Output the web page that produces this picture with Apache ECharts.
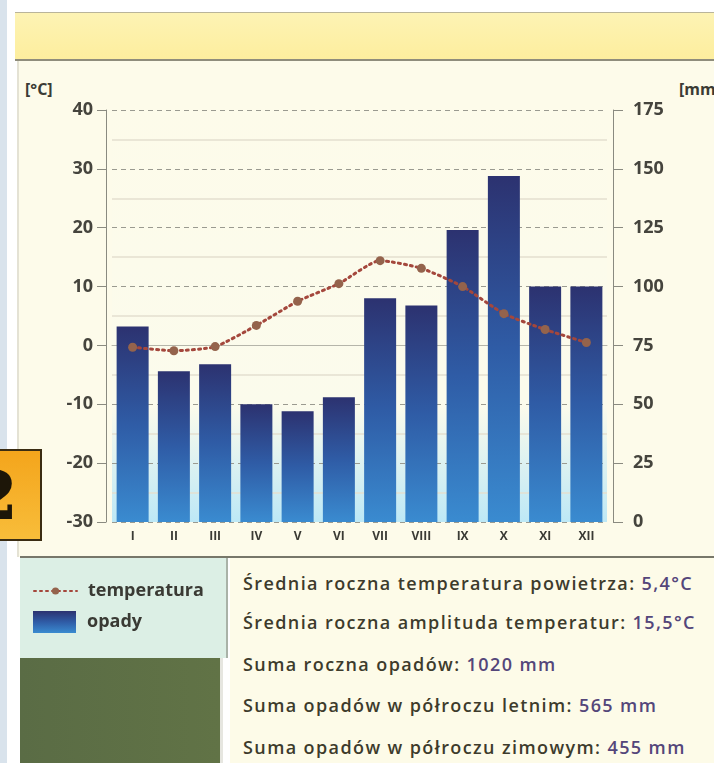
<!DOCTYPE html>
<html>
<head>
<meta charset="utf-8">
<script src="https://cdn.jsdelivr.net/npm/echarts@6/dist/echarts.min.js"></script>
<style>
  body { margin: 0; width: 714px; height: 763px; position: relative; overflow: hidden; background: #fff; font-family: 'Open Sans', sans-serif; }
  .edge { position: absolute; left: 0; top: 0; width: 7px; height: 763px; background: #d9e3ec; }
  .panel { position: absolute; left: 17px; top: 60px; width: 697px; height: 497px; background: #fdfbea; border-left: 2px solid #e4e2d4; }
  .topbar { position: absolute; left: 15px; top: 12px; width: 699px; height: 46px; background: linear-gradient(#fdf3b4, #fdee9e); border-top: 1px solid #b9b49a; border-bottom: 2px solid #8f8d7c; }
  .unit { position: absolute; top: 78px; font-weight: bold; font-size: 16px; color: #3b3b35; }
  .badge { position: absolute; left: -12px; top: 449px; width: 54px; height: 92px; background: linear-gradient(#f4a51c, #f8bd3a); border: 2px solid #3a2c12; box-sizing: border-box; overflow: hidden; }
  .badge span { position: absolute; right: 22px; top: 4px; font-size: 68px; font-weight: bold; color: #1d1608; line-height: 80px; font-family: 'DejaVu Serif', serif; }
  .hline { position: absolute; left: 20px; top: 556px; width: 694px; height: 2px; background: #77776a; }
  .legendbox { position: absolute; left: 20px; top: 558px; width: 206px; height: 100px; background: #dcefe5; border-right: 2px solid #a9b2a8; }
  .green { position: absolute; left: 20px; top: 658px; width: 200px; height: 105px; background: linear-gradient(90deg, #5a6c45, #617346); border-right: 3px solid #e6e6e0; }
  .info { position: absolute; left: 230px; top: 558px; width: 484px; height: 205px; background: #fdfbe8; }
  .info div { position: absolute; left: 13px; font-size: 18px; font-weight: 600; letter-spacing: 1.4px; color: #3d3b2c; white-space: nowrap; line-height: 20px; }
  .info b { color: #54467a; font-weight: 600; }
  #chart { position: absolute; left: 0; top: 0; width: 714px; height: 763px; }
</style>
</head>
<body>
<div class="edge"></div>
<div class="panel"></div>
<div class="topbar"></div>
<div class="unit" style="left:25px">[°C]</div>
<div class="unit" style="left:679px">[mm]</div>
<div class="hline"></div>
<div class="legendbox"></div>
<div class="green"></div>
<div class="info">
  <div style="top:15px">Średnia roczna temperatura powietrza: <b>5,4°C</b></div>
  <div style="top:54px">Średnia roczna amplituda temperatur: <b>15,5°C</b></div>
  <div style="top:96px">Suma roczna opadów: <b>1020 mm</b></div>
  <div style="top:137px">Suma opadów w półroczu letnim: <b>565 mm</b></div>
  <div style="top:179px">Suma opadów w półroczu zimowym: <b>455 mm</b></div>
</div>
<div id="chart"></div>
<div class="badge"><span>2</span></div>
<script>
const months = ['I', 'II', 'III', 'IV', 'V', 'VI', 'VII', 'VIII', 'IX', 'X', 'XI', 'XII'];
const temperatura = [-0.3, -0.9, -0.2, 3.4, 7.5, 10.5, 14.4, 13.1, 10.0, 5.4, 2.7, 0.5];
const opady = [83, 64, 67, 50, 47, 53, 95, 92, 124, 147, 100, 100];

let myChart = echarts.init(document.getElementById('chart'));
let labelStyle = { fontFamily: 'Open Sans', fontWeight: 'bold', fontSize: 18, color: '#45443d' };
let legendText = { fontFamily: 'Open Sans', fontWeight: 'bold', fontSize: 18, color: '#3a3a34', padding: [0, 0, 0, 6] };
let option = {
  animation: false,
  grid: {
    show: true,
    left: 112,
    width: 495,
    top: 110,
    height: 412,
    borderWidth: 0,
    backgroundColor: new echarts.graphic.LinearGradient(0, 0, 0, 1, [
      { offset: 0, color: '#fdfbea' },
      { offset: 0.72, color: '#fbfbec' },
      { offset: 1, color: '#bde8f6' }
    ])
  },
  legend: [
    {
      left: 33,
      top: 582,
      padding: 0,
      itemWidth: 43,
      itemHeight: 9,
      data: ['temperatura'],
      textStyle: legendText
    },
    {
      left: 33,
      top: 611,
      padding: 0,
      itemWidth: 43,
      itemHeight: 22,
      data: [{ name: 'opady', icon: 'rect' }],
      textStyle: legendText
    }
  ],
  xAxis: {
    type: 'category',
    data: months,
    axisLine: { show: true, lineStyle: { color: '#b5b5aa' } },
    axisTick: { show: false },
    axisLabel: { margin: 9, fontFamily: 'Open Sans', fontWeight: 'bold', fontSize: 12, color: '#3a3a34' }
  },
  yAxis: [
    {
      type: 'value',
      min: -30,
      max: 40,
      interval: 10,
      offset: 6,
      axisLine: { show: true, lineStyle: { color: '#8a8a80' } },
      axisTick: { show: true, length: 9, lineStyle: { color: '#8a8a80' } },
      axisLabel: Object.assign({ margin: 13 }, labelStyle),
      splitLine: { show: true, lineStyle: { color: '#9a9a90', type: [5, 4] } },
      minorTick: { show: false, splitNumber: 2 },
      minorSplitLine: { show: true, lineStyle: { color: '#e3e0cf', width: 1.5 } }
    },
    {
      type: 'value',
      min: 0,
      max: 175,
      interval: 25,
      offset: 6,
      position: 'right',
      axisLine: { show: true, lineStyle: { color: '#8a8a80' } },
      axisTick: { show: true, length: 10, lineStyle: { color: '#8a8a80' } },
      axisLabel: Object.assign({ margin: 20 }, labelStyle),
      splitLine: { show: false }
    }
  ],
  series: [
    {
      name: 'opady',
      type: 'bar',
      yAxisIndex: 1,
      barWidth: 32,
      data: opady,
      itemStyle: {
        color: new echarts.graphic.LinearGradient(0, 0, 0, 1, [
          { offset: 0, color: '#2c3270' },
          { offset: 0.5, color: '#2f5ca6' },
          { offset: 1, color: '#3a8bd0' }
        ])
      }
    },
    {
      name: 'temperatura',
      type: 'line',
      yAxisIndex: 0,
      data: temperatura,
      smooth: 0.2,
      symbol: 'circle',
      symbolSize: 9,
      z: 5,
      lineStyle: { color: '#a4473c', width: 3, type: [2, 4], cap: 'round' },
      itemStyle: { color: '#94634c' }
    }
  ]
};
myChart.setOption(option);
</script>
</body>
</html>
